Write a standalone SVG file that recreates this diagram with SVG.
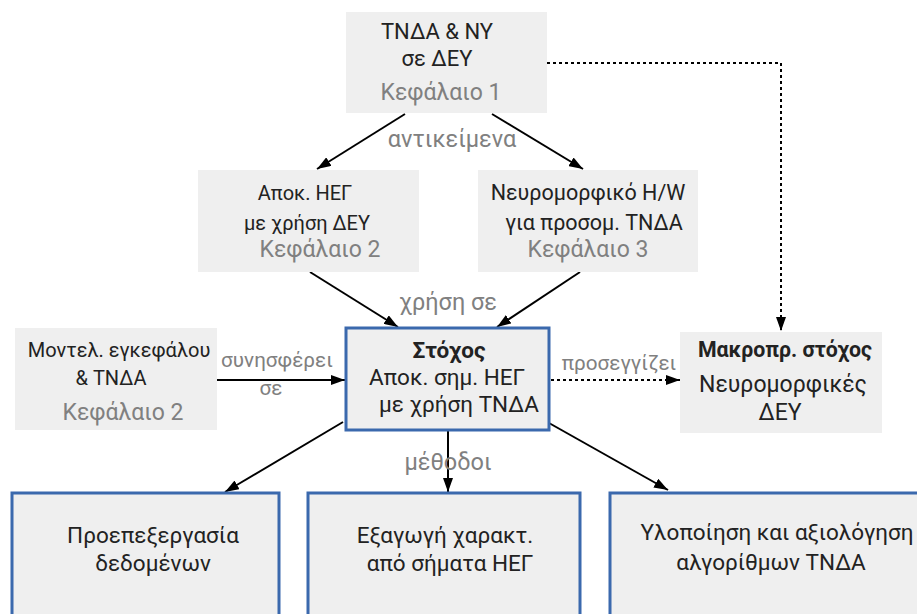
<svg xmlns="http://www.w3.org/2000/svg" width="917" height="614" viewBox="0 0 917 614">
<defs>
<marker id="ah" viewBox="0 0 14 10" refX="14" refY="5" markerWidth="14" markerHeight="10" markerUnits="userSpaceOnUse" orient="auto">
<path d="M0,0 L14,5 L0,10 Z" fill="#000"/>
</marker>
</defs>
<style>
text{font-family:Roboto,"Liberation Sans",sans-serif;font-size:20px;fill:#222;text-anchor:middle}
.g{fill:#808080;font-size:23px}
.b{font-weight:bold}
.lbl{fill:#808080;font-size:23.5px}
.lbs{fill:#808080;font-size:20.7px}
.s22{font-size:22.5px}
.box{fill:#efefef}
.goal{fill:#efefef;stroke:#3b69ad;stroke-width:3}
.c{stroke:#000;stroke-width:2;fill:none;marker-end:url(#ah)}
.d{stroke:#000;stroke-width:2;fill:none;stroke-dasharray:3 3;marker-end:url(#ah)}
</style>
<g id="connectors">
<path class="c" d="M405,114 L317,169"/>
<path class="c" d="M492,114 L583,169"/>
<path class="d" d="M547,63 H781 V331"/>
<path class="c" d="M310,272 L398,327"/>
<path class="c" d="M580,272 L497,327"/>
<path class="c" d="M217,380 L345,380"/>
<path class="d" d="M551,380 L680,380"/>
<path class="c" d="M343,422 L225,492"/>
<path class="c" d="M448,431 L448,492"/>
<path class="c" d="M549,423 L668,490"/>
<text class="lbl" x="452" y="147">αντικείμενα</text>
<text class="lbl" x="448" y="310">χρήση σε</text>
<text class="lbs" x="277" y="367">συνησφέρει</text>
<text class="lbs" x="271" y="395">σε</text>
<text class="lbs" x="619" y="370">προσεγγίζει</text>
<text class="lbl" x="448" y="470">μέθοδοι</text>
</g>
<g id="n1">
<rect class="box" x="346" y="12" width="201" height="101"/>
<text style="font-size:22px" x="437" y="39">ΤΝΔΑ &amp; ΝΥ</text>
<text style="font-size:22px" x="437" y="66">σε ΔΕΥ</text>
<text class="g" x="441" y="100">Κεφάλαιο 1</text>
</g>
<g id="n2">
<rect class="box" x="198" y="170" width="221" height="102"/>
<text x="305" y="200">Αποκ. ΗΕΓ</text>
<text x="307" y="230">με χρήση ΔΕΥ</text>
<text class="g" x="320" y="257">Κεφάλαιο 2</text>
</g>
<g id="n3">
<rect class="box" x="478" y="170" width="220" height="102"/>
<text style="font-size:21.5px" x="588" y="200">Νευρομορφικό H/W</text>
<text style="font-size:21.5px" x="594" y="230">για προσομ. ΤΝΔΑ</text>
<text class="g" x="588" y="257">Κεφάλαιο 3</text>
</g>
<g id="n4">
<rect class="box" x="15" y="328" width="202" height="102"/>
<text x="119" y="357">Μοντελ. εγκεφάλου</text>
<text x="111" y="385">&amp; ΤΝΔΑ</text>
<text class="g" x="123" y="420">Κεφάλαιο 2</text>
</g>
<g id="goal">
<rect class="goal" x="346" y="328" width="203" height="102"/>
<text class="b s22" x="449" y="358">Στόχος</text>
<text class="s22" x="447" y="385">Αποκ. σημ. ΗΕΓ</text>
<text class="s22" x="459" y="412">με χρήση ΤΝΔΑ</text>
</g>
<g id="macro">
<rect class="box" x="680" y="332" width="202" height="101"/>
<text class="b" style="font-size:21.3px" x="785" y="357">Μακροπρ. στόχος</text>
<text style="font-size:23px" x="783" y="392">Νευρομορφικές</text>
<text style="font-size:23px" x="780" y="420">ΔΕΥ</text>
</g>
<g id="m1">
<rect class="goal" x="12" y="493" width="267" height="130"/>
<text class="s22" x="153" y="543">Προεπεξεργασία</text>
<text class="s22" x="153" y="571">δεδομένων</text>
</g>
<g id="m2">
<rect class="goal" x="308" y="493" width="272" height="130"/>
<text class="s22" x="445" y="543">Εξαγωγή χαρακτ.</text>
<text class="s22" x="450" y="571">από σήματα ΗΕΓ</text>
</g>
<g id="m3">
<rect class="goal" x="610" y="493" width="310" height="130"/>
<text class="s22" x="777" y="540">Υλοποίηση και αξιολόγηση</text>
<text class="s22" x="771" y="570">αλγορίθμων ΤΝΔΑ</text>
</g>
</svg>
